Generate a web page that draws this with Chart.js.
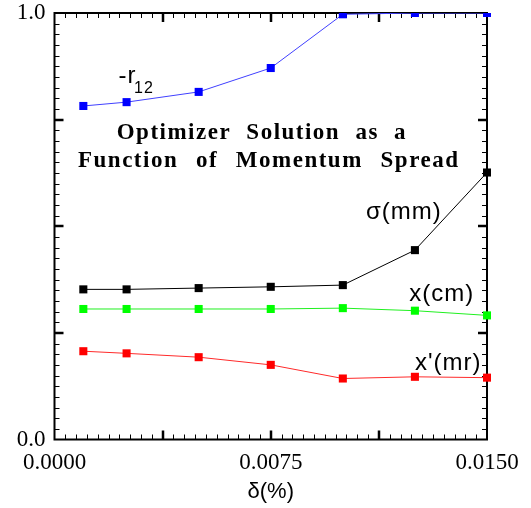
<!DOCTYPE html>
<html><head><meta charset="utf-8">
<script src="https://cdn.jsdelivr.net/npm/chart.js@4.4.0/dist/chart.umd.min.js"></script>
<style>html,body{margin:0;padding:0;background:#fff}#wrap{width:531px;height:508px;position:relative}</style>
</head><body><div id="wrap"><canvas id="c" width="531" height="508"></canvas></div>
<script>
// ---- data ----
const delta = [0.001, 0.0025, 0.005, 0.0075, 0.01, 0.0125, 0.015];
const r12   = [0.782, 0.791, 0.815, 0.871, 0.997, 1.0, 1.0];
const sigma = [0.352, 0.352, 0.355, 0.358, 0.362, 0.444, 0.626];
const xcm   = [0.306, 0.306, 0.306, 0.306, 0.308, 0.302, 0.291];
const xpmr  = [0.207, 0.202, 0.193, 0.175, 0.143, 0.147, 0.145];
const seriesNames = ['-r12', 'σ(mm)', 'x(cm)', "x'(mr)"];
const xTickLabels = [0, 0.0075, 0.015];
const yTickLabels = [0, 1];
const xMajorTicks = [0.00375, 0.0075, 0.01125];
const yMajorTicks = [0.25, 0.5, 0.75];
const xMinorCount = 40;
const yMinorCount = 40;
const titleLines = ['Optimizer Solution as a', 'Function of Momentum Spread'];
const xAxisTitle = 'δ(%)';

const pts = arr => delta.map((d, i) => ({x: d, y: arr[i]}));

const SANS = '"Liberation Sans", Arial, sans-serif';
const SERIF = '"Liberation Serif", "Times New Roman", serif';

const frameTicks = {
  id: 'frameTicks',
  beforeDatasetsDraw(chart) {
    const {ctx, chartArea: a, scales: {x, y}} = chart;
    ctx.save();
    ctx.strokeStyle = '#000';
    ctx.lineWidth = 1;
    ctx.beginPath();
    for (let i = 1; i < xMinorCount; i++) {
      const px = Math.round(x.getPixelForValue(x.min + (x.max - x.min) * i / xMinorCount)) + 0.5;
      ctx.moveTo(px, a.bottom); ctx.lineTo(px, a.bottom - 5);
      ctx.moveTo(px, a.top); ctx.lineTo(px, a.top + 5);
    }
    for (let i = 1; i < yMinorCount; i++) {
      const py = Math.round(y.getPixelForValue(y.min + (y.max - y.min) * i / yMinorCount)) + 0.5;
      ctx.moveTo(a.left, py); ctx.lineTo(a.left + 5, py);
      ctx.moveTo(a.right, py); ctx.lineTo(a.right - 5, py);
    }
    ctx.stroke();
    ctx.lineWidth = 2.5;
    ctx.beginPath();
    xMajorTicks.forEach(v => {
      const px = Math.round(x.getPixelForValue(v));
      ctx.moveTo(px, a.bottom); ctx.lineTo(px, a.bottom - 9);
      ctx.moveTo(px, a.top); ctx.lineTo(px, a.top + 9);
    });
    yMajorTicks.forEach(v => {
      const py = Math.round(y.getPixelForValue(v));
      ctx.moveTo(a.left, py); ctx.lineTo(a.left + 9, py);
      ctx.moveTo(a.right, py); ctx.lineTo(a.right - 9, py);
    });
    ctx.stroke();
    ctx.lineWidth = 2;
    ctx.strokeRect(a.left, a.top, a.right - a.left, a.bottom - a.top);
    ctx.restore();
  },
  afterDraw(chart) {
    const {ctx, scales: {x, y}} = chart;
    const P = (vx, vy) => [x.getPixelForValue(vx), y.getPixelForValue(vy)];
    ctx.save();
    ctx.fillStyle = '#000';
    ctx.textBaseline = 'alphabetic';
    ctx.textAlign = 'left';
    ctx.letterSpacing = '1px';
    ctx.font = '24px ' + SANS;
    let p = P(0.00222, 0.836); ctx.fillText('-r', p[0], p[1]);
    ctx.font = '16px ' + SANS;
    p = P(0.00276, 0.8124); ctx.fillText('12', p[0], p[1]);
    ctx.font = '24px ' + SANS;
    p = P(0.0108, 0.517); ctx.fillText(seriesNames[1], p[0], p[1]);
    p = P(0.0123, 0.3254); ctx.fillText(seriesNames[2], p[0], p[1]);
    p = P(0.0125, 0.163); ctx.fillText(seriesNames[3], p[0], p[1]);
    ctx.font = 'bold 23px ' + SERIF;
    ctx.letterSpacing = '1.5px';
    ctx.wordSpacing = '8px';
    p = P(0.002157, 0.7046); ctx.fillText(titleLines[0], p[0], p[1]);
    ctx.wordSpacing = '10.5px';
    p = P(0.000815, 0.638); ctx.fillText(titleLines[1], p[0], p[1]);
    ctx.restore();
  }
};

const ds = (label, arr, color, line) => ({
  label, data: pts(arr),
  borderColor: line, backgroundColor: color,
  pointBackgroundColor: color, pointBorderColor: color,
  borderWidth: 1, pointStyle: 'rect', pointRadius: 5.7, pointBorderWidth: 0,
  tension: 0, clip: {left: false, right: false, bottom: false, top: 0}
});

new Chart(document.getElementById('c'), {
  type: 'line',
  data: {
    datasets: [
      ds(seriesNames[0], r12, '#0000ff', '#4040ff'),
      ds(seriesNames[1], sigma, '#000000', '#000000'),
      ds(seriesNames[2], xcm, '#00ff00', '#20f020'),
      ds(seriesNames[3], xpmr, '#ff0000', '#ff2a2a')
    ]
  },
  options: {
    responsive: false, animation: false, devicePixelRatio: 1,
    layout: {padding: {top: 13, right: 44, left: 0, bottom: 0}},
    plugins: {legend: {display: false}, tooltip: {enabled: false}},
    scales: {
      x: {
        type: 'linear', min: 0, max: 0.015,
        afterBuildTicks: s => { s.ticks = xTickLabels.map(v => ({value: v})); },
        afterFit: s => { s.height = 68.5; s.paddingLeft = 0; s.paddingRight = 0; },
        grid: {display: false, drawTicks: false},
        border: {display: false},
        ticks: {
          color: '#000', padding: 10, maxRotation: 0, autoSkip: false,
          font: {family: SERIF, size: 23},
          callback: v => Number(v).toFixed(4)
        },
        title: {display: true, text: xAxisTitle, color: '#000', padding: {top: 0, bottom: 3},
          font: {family: SANS, size: 22}}
      },
      y: {
        type: 'linear', min: 0, max: 1,
        afterBuildTicks: s => { s.ticks = yTickLabels.map(v => ({value: v})); },
        afterFit: s => { s.width = 54.5; s.paddingTop = 0; s.paddingBottom = 0; },
        grid: {display: false, drawTicks: false},
        border: {display: false},
        ticks: {
          color: '#000', padding: 9, autoSkip: false,
          font: {family: SERIF, size: 23},
          callback: v => Number(v).toFixed(1)
        }
      }
    }
  },
  plugins: [frameTicks]
});
</script></body></html>
